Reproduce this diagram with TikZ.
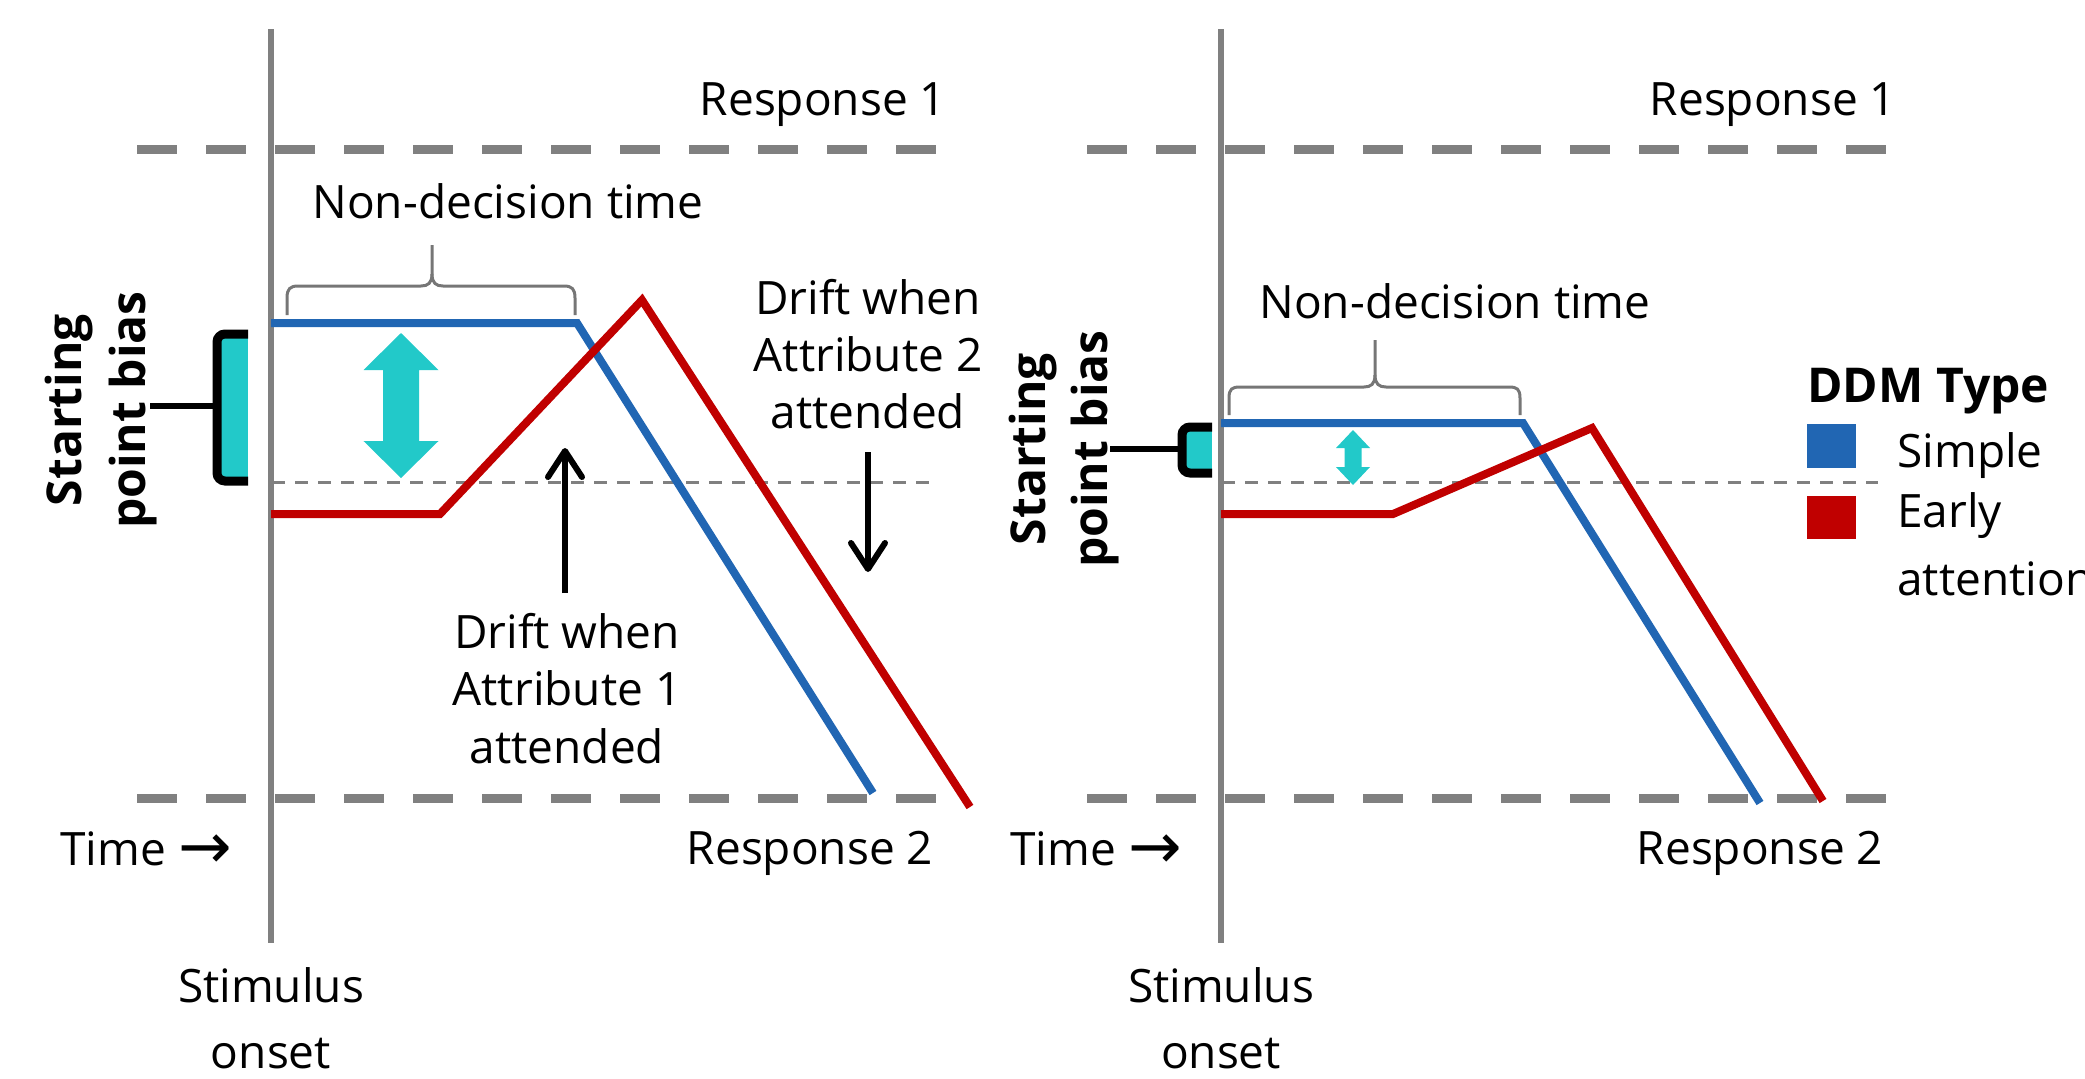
\documentclass[tikz,border=0pt]{standalone}
\usepackage{fontspec}
\setmainfont{Open Sans}
\newfontfamily\arrowfont{DejaVu Sans}
\usetikzlibrary{arrows.meta}
\definecolor{ddmblue}{RGB}{33,102,179}
\definecolor{ddmred}{RGB}{192,0,0}
\definecolor{ddmgray}{RGB}{128,128,128}
\definecolor{bracegray}{RGB}{118,118,118}
\definecolor{ddmcyan}{RGB}{34,201,201}
\newcommand{\timearrow}{\raisebox{-1.5pt}{\arrowfont\fontsize{32}{32}\selectfont →}}
\begin{document}
\begin{tikzpicture}[x=0.5pt,y=-0.5pt,
  lbl/.style={inner sep=0pt, anchor=base, font=\fontsize{23}{28.5}\selectfont},
  lblw/.style={lbl, anchor=base west},
  boldlbl/.style={inner sep=0pt, anchor=base, font=\fontsize{24}{30}\selectfont\bfseries},
  axisline/.style={draw=ddmgray, line width=3pt},
  bound/.style={draw=ddmgray, line width=4.5pt, dash pattern=on 20pt off 14.5pt},
  midline/.style={draw=ddmgray, line width=1.5pt, dash pattern=on 6.5pt off 5pt},
  simple/.style={draw=ddmblue, line width=4pt},
  early/.style={draw=ddmred, line width=4pt},
  bracestyle/.style={draw=bracegray, line width=1.5pt},
  drift/.style={line width=3pt, -{Straight Barb[length=13pt,width=17pt,round]}},
  biasbox/.style={draw=black, line width=4.5pt, rounded corners=4pt},
  biasstem/.style={draw=black, line width=3pt},
  cyanarrow/.style={fill=ddmcyan, draw=none},
]
\path[use as bounding box] (0,0) rectangle (2085,1078);

% ================= LEFT PANEL =================
\coordinate (r1aL) at (137,149); \coordinate (r1bL) at (937,149);
\coordinate (r2aL) at (137,798); \coordinate (r2bL) at (937,798);
\coordinate (mdaL) at (272,482); \coordinate (mdbL) at (930,482);
\draw[bound] (r1aL) -- (r1bL);
\draw[bound] (r2aL) -- (r2bL);
\draw[midline] (mdaL) -- (mdbL);
\coordinate (vtL) at (271,29); \coordinate (vbL) at (271,943);
\draw[axisline] (vtL) -- (vbL);

% starting point bias (left)
\fill[ddmcyan] (217,334) rectangle (248,481);
\draw[biasbox] (248,334) -- (217,334) -- (217,481) -- (248,481);
\coordinate (stemL) at (150,406); \coordinate (stemLe) at (217,406);
\draw[biasstem] (stemL) -- (stemLe);
\node[boldlbl, rotate=90] (startL) at (82,410) {Starting};
\node[boldlbl, rotate=90] (pointL) at (145,410) {point bias};

% cyan double arrow (left)
\fill[cyanarrow] (401,333) -- (438.5,370) -- (419,370) -- (419,441) -- (438.5,441)
  -- (401,478) -- (363.5,441) -- (383,441) -- (383,370) -- (363.5,370) -- cycle;

% brace (left)
\draw[bracestyle] (287,315) -- (287,298) .. controls (287,289) and (290,286) .. (298,286)
  -- (421,286) .. controls (428,286) and (432,283) .. (432,274) -- (432,245);
\draw[bracestyle] (575,315) -- (575,298) .. controls (575,289) and (572,286) .. (564,286)
  -- (443,286) .. controls (436,286) and (432,283) .. (432,274);
\node[lbl] (ndtL) at (508,218) {Non-decision time};

% trajectories (left)
\draw[simple] (271,323) -- (577,323) -- (873,793);
\draw[early] (271,514) -- (440,514) -- (642,300) -- (970,807);

% drift arrows (left)
\coordinate (d1s) at (565,593); \coordinate (d1e) at (565,448);
\draw[drift] (d1s) -- (d1e);
\coordinate (d2s) at (868,452); \coordinate (d2e) at (868,572);
\draw[drift] (d2s) -- (d2e);
\node[lbl] (a1l1) at (567,648) {Drift when};
\node[lbl] (a1l2) at (567,705) {Attribute 1};
\node[lbl] (a1l3) at (567,763) {attended};
\node[lbl] (a2l1) at (868,314) {Drift when};
\node[lbl] (a2l2) at (868,371) {Attribute 2};
\node[lbl] (a2l3) at (868,428) {attended};

\node[lbl] (resp1L) at (823,115) {Response 1};
\node[lbl] (resp2L) at (810,864) {Response 2};
\node[lblw] (timeL) at (60,865) {Time \timearrow};
\node[lbl] (stimL) at (271,1002) {Stimulus};
\node[lbl] (onsetL) at (271,1068) {onset};

% ================= RIGHT PANEL =================
\coordinate (r1aR) at (1087,149); \coordinate (r1bR) at (1887,149);
\coordinate (r2aR) at (1087,798); \coordinate (r2bR) at (1887,798);
\coordinate (mdaR) at (1222,482); \coordinate (mdbR) at (1878,482);
\draw[bound] (r1aR) -- (r1bR);
\draw[bound] (r2aR) -- (r2bR);
\draw[midline] (mdaR) -- (mdbR);
\coordinate (vtR) at (1221,29); \coordinate (vbR) at (1221,943);
\draw[axisline] (vtR) -- (vbR);

% starting point bias (right)
\fill[ddmcyan] (1182,427) rectangle (1212,473);
\draw[biasbox] (1212,427) -- (1182,427) -- (1182,473) -- (1212,473);
\coordinate (stemR) at (1110,449); \coordinate (stemRe) at (1182,449);
\draw[biasstem] (stemR) -- (stemRe);
\node[boldlbl, rotate=90] (startR) at (1045,449) {Starting};
\node[boldlbl, rotate=90] (pointR) at (1107,449) {point bias};

% cyan double arrow (right)
\fill[cyanarrow] (1353,430) -- (1370,448) -- (1361.5,448) -- (1361.5,467) -- (1370,467)
  -- (1353,485) -- (1336,467) -- (1344.5,467) -- (1344.5,448) -- (1336,448) -- cycle;

% brace (right)
\draw[bracestyle] (1229,415) -- (1229,398) .. controls (1229,389) and (1232,387) .. (1240,387)
  -- (1364,387) .. controls (1371,387) and (1375,384) .. (1375,375) -- (1375,340);
\draw[bracestyle] (1520,415) -- (1520,398) .. controls (1520,389) and (1517,387) .. (1509,387)
  -- (1386,387) .. controls (1379,387) and (1375,384) .. (1375,375);
\node[lbl] (ndtR) at (1455,318) {Non-decision time};

% trajectories (right)
\draw[simple] (1221,423) -- (1523,423) -- (1760,803);
\draw[early] (1221,514) -- (1393,514) -- (1592,428) -- (1823,801);

\node[lbl] (resp1R) at (1773,115) {Response 1};
\node[lbl] (resp2R) at (1760,864) {Response 2};
\node[lblw] (timeR) at (1010,865) {Time \timearrow};
\node[lbl] (stimR) at (1221,1002) {Stimulus};
\node[lbl] (onsetR) at (1221,1068) {onset};

% ================= LEGEND =================
\node[boldlbl, anchor=base west] (legT) at (1807,402) {DDM Type};
\fill[ddmblue] (1807,424) rectangle (1856,468);
\fill[ddmred] (1807,496) rectangle (1856,539);
\node[lblw] (legS) at (1897,467) {Simple};
\node[lblw] (legE1) at (1897,527) {Early};
\node[lblw] (legE2) at (1897,595) {attention};
\end{tikzpicture}
\end{document}
